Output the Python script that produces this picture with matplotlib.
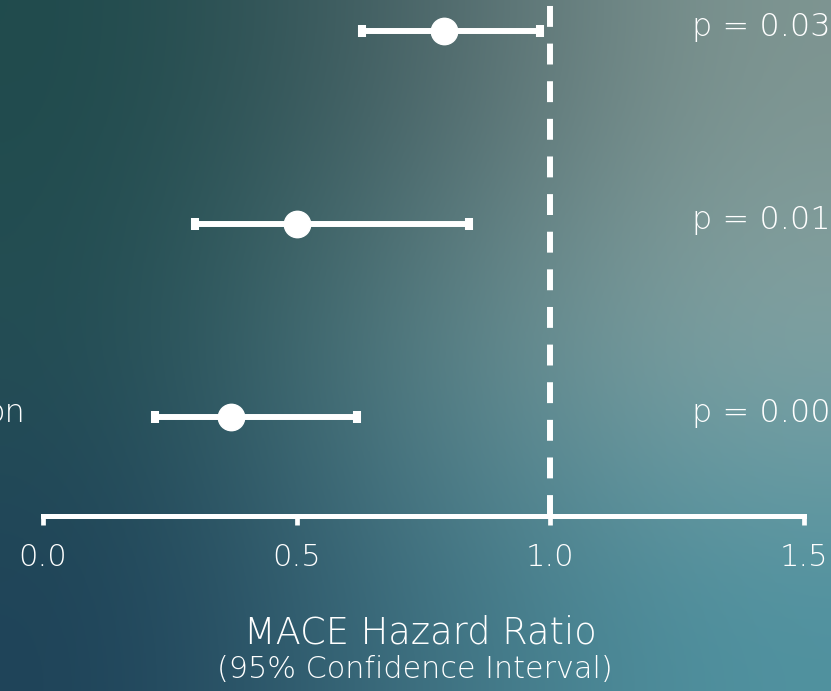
import numpy as np
import matplotlib
matplotlib.use("Agg")
import matplotlib.pyplot as plt
from matplotlib.colors import to_rgb
from matplotlib import font_manager as fm

# ---- data ----
row_labels = ["", "", "on"]
hazard_ratio = [0.79, 0.50, 0.37]
ci_low = [0.63, 0.30, 0.22]
ci_high = [0.98, 0.84, 0.62]
p_labels = ["p = 0.03", "p = 0.01", "p = 0.001"]
xticks = [0.0, 0.5, 1.0, 1.5]
xtick_labels = ["0.0", "0.5", "1.0", "1.5"]

names = {f.name for f in fm.fontManager.ttflist}
tick_family = "DejaVu Sans"
for cand in ["Liberation Sans Narrow", "DejaVu Sans Condensed"]:
    if cand in names:
        tick_family = cand
        break

W, H, DPI = 831, 691, 100
fig = plt.figure(figsize=(W / DPI, H / DPI), dpi=DPI)

# ---- background gradient ----
grid = [["#1f4a4c", "#4a6266", "#7f9692"],
        ["#234d53", "#5a8489", "#86a6a6"],
        ["#1e4258", "#3e7080", "#4f92a0"]]
g = np.array([[to_rgb(c) for c in r] for r in grid])
bg = fig.add_axes([0, 0, 1, 1], zorder=0)
bg.imshow(g, aspect="auto", interpolation="bicubic", extent=[0, 1, 0, 1])
bg.set_axis_off()

# ---- main axes ----
ax = fig.add_axes([0, 0, 1, 1], zorder=1)
ax.patch.set_alpha(0)

px_per_unit = 507.0
x0_px = 43.0
ax.set_xlim(-x0_px / px_per_unit, (W - x0_px) / px_per_unit)
row_px = 193.0
ax.set_ylim((610 - H) / row_px, 610 / row_px)
axis_y = (610 - 516) / row_px

n = len(hazard_ratio)
ys = np.arange(n, 0, -1).astype(float)
hr = np.array(hazard_ratio)
lo = np.array(ci_low)
hi = np.array(ci_high)

ax.errorbar(hr, ys, xerr=[hr - lo, hi - hr], fmt="o", color="white",
            ms=19, elinewidth=4.3, capsize=4.5, capthick=5.8, zorder=5)

# dashed reference line
ax.plot([1.0, 1.0], [axis_y, ax.get_ylim()[1]], color="white", lw=4.3,
        dashes=(3.5, 2.8), solid_capstyle="butt", dash_capstyle="butt", zorder=3)

for y, lab, p in zip(ys, row_labels, p_labels):
    ax.text((692 - x0_px) / px_per_unit, y + 0.02, p, color="white", fontsize=23,
            family="DejaVu Sans", fontweight="light", ha="left", va="center")
    if lab:
        ax.text((25 - x0_px) / px_per_unit, y + 0.02, lab, color="white", fontsize=23,
                family="DejaVu Sans", fontweight="light", ha="right", va="center")

for s in ["top", "left", "right"]:
    ax.spines[s].set_visible(False)
ax.spines["bottom"].set_position(("data", axis_y))
ax.spines["bottom"].set_bounds(0, 1.5)
ax.spines["bottom"].set_color("white")
ax.spines["bottom"].set_linewidth(3.6)
ax.set_yticks([])
ax.set_xticks(xticks)
ax.set_xticklabels(xtick_labels, family=tick_family, fontweight="light", fontsize=22)
ax.tick_params(axis="x", colors="white", direction="out", length=6.5, width=3.4,
               pad=13, labelcolor="white")

fig.text(420 / W, 1 - 633 / H, "MACE Hazard Ratio", color="white", fontsize=26.5,
         family="DejaVu Sans", fontweight="light", ha="center", va="center")
fig.text(415 / W, 1 - 670 / H, "(95% Confidence Interval)", color="white", fontsize=21.8,
         family="DejaVu Sans", fontweight="light", ha="center", va="center")

fig.savefig("out.png", dpi=DPI)
